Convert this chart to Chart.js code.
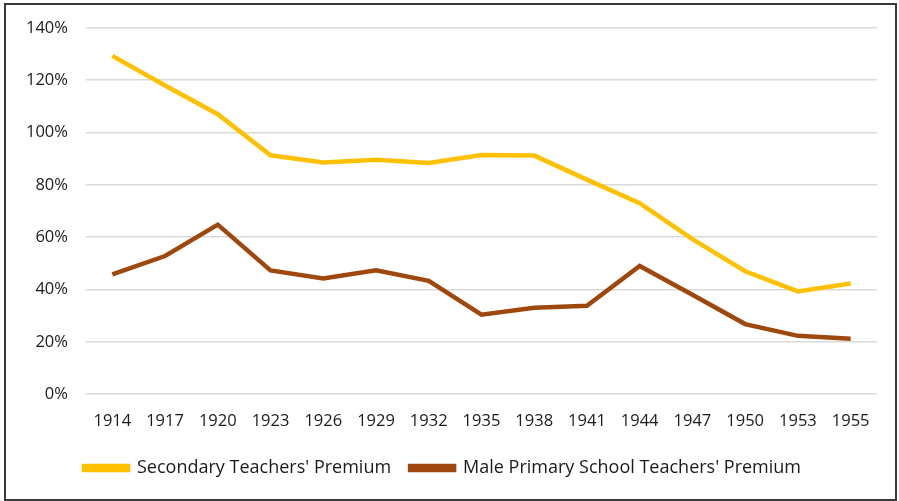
<!DOCTYPE html>
<html>
<head>
<meta charset="utf-8">
<script src="https://cdn.jsdelivr.net/npm/chart.js@4"></script>
<style>
  body { margin: 0; background: #fff; }
  #wrap { position: relative; width: 899px; height: 501px; }
  #frame { position: absolute; left: 4px; top: 3px; width: 889px; height: 494px; border: 2px solid #3a3a3a; pointer-events: none; }
</style>
</head>
<body>
<div id="wrap">
  <canvas id="chart" width="899" height="501"></canvas>
  <div id="frame"></div>
</div>
<script>
var years = ["1914", "1917", "1920", "1923", "1926", "1929", "1932", "1935", "1938", "1941", "1944", "1947", "1950", "1953", "1955"];
var secondary = [1.293, 1.18, 1.07, 0.913, 0.886, 0.896, 0.884, 0.914, 0.912, 0.82, 0.73, 0.593, 0.47, 0.393, 0.423];
var malePrimary = [0.458, 0.528, 0.648, 0.473, 0.442, 0.474, 0.433, 0.304, 0.33, 0.338, 0.49, 0.38, 0.268, 0.223, 0.212];

Chart.defaults.font.family = "'Open Sans', 'Liberation Sans', sans-serif";
Chart.defaults.font.size = 16.5;
Chart.defaults.color = "#1a1a1a";

var ctx = document.getElementById("chart");
var chart = new Chart(ctx, {
  type: 'line',
  data: {
    labels: years,
    datasets: [
      {
        label: "Secondary Teachers' Premium",
        data: secondary,
        borderColor: "#FFC000",
        backgroundColor: "#FFC000",
        borderWidth: 4.5,
        pointRadius: 0,
        tension: 0
      },
      {
        label: "Male Primary School Teachers' Premium",
        data: malePrimary,
        borderColor: "#9E480E",
        backgroundColor: "#9E480E",
        borderWidth: 4.5,
        pointRadius: 0,
        tension: 0
      }
    ]
  },
  options: {
    responsive: false,
    animation: false,
    layout: { padding: { left: 8, right: 22, top: 21, bottom: 14 } },
    scales: {
      x: {
        offset: true,
        grid: { display: false },
        border: { display: false },
        ticks: { padding: 9, maxRotation: 0, autoSkip: false }
      },
      y: {
        min: 0,
        max: 1.4,
        grid: { color: "#d9d9d9", lineWidth: 1.5, drawTicks: false },
        border: { display: false },
        ticks: {
          stepSize: 0.2,
          padding: 18,
          callback: function (v) { return Math.round(v * 100) + "%"; }
        }
      }
    },
    plugins: {
      legend: {
        position: 'bottom',
        labels: {
          boxWidth: 44,
          boxHeight: 4,
          padding: 19,
          font: { size: 18 }
        }
      },
      tooltip: { enabled: false }
    }
  }
});
</script>
</body>
</html>
